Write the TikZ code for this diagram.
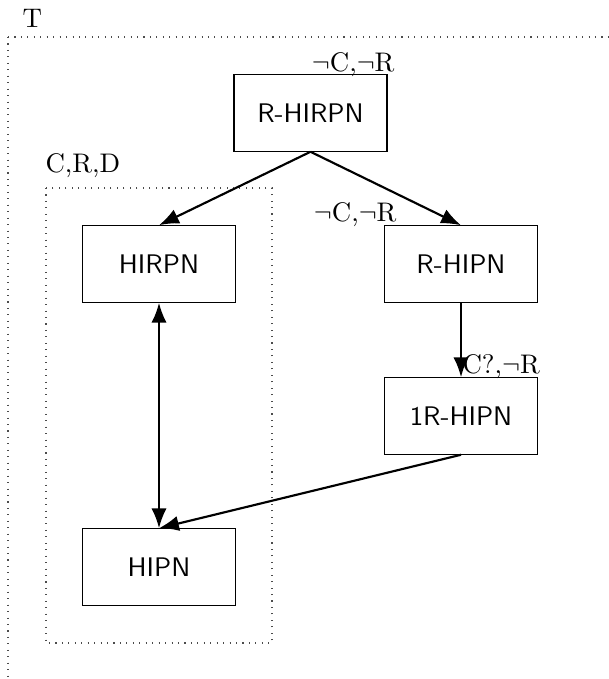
\documentclass[tikz,border=0pt]{standalone}
\usetikzlibrary{arrows.meta}
\begin{document}
\begin{tikzpicture}[x={(0.013072cm,0)}, y={(0,-0.013072cm)},
  netbox/.style={draw, rectangle, minimum width=2cm, minimum height=1cm, font=\sffamily},
  tag/.style={inner sep=0pt, font=\rmfamily},
  link/.style={thick, -{Latex[length=2.6mm,width=2mm]}},
  region/.style={draw=black!70, dotted}]
  \useasboundingbox (0,0) rectangle (609,679);

  % outer region T
  \draw[region] (8,37) -- (640,37);
  \draw[region] (8,37) -- (8,700);
  \node[tag, anchor=base west] (tlabel) at (22,28) {T};

  % inner region C,R,D
  \draw[region] (46,188) rectangle (272,643);
  \node[tag, anchor=base west] (crd) at (45,173) {C,R,D};

  % nets
  \node[netbox] (rhirpn) at (310.5,113) {R-HIRPN};
  \node[netbox] (hirpn) at (159,264) {HIRPN};
  \node[netbox] (rhipn) at (461,264) {R-HIPN};
  \node[netbox] (onerhipn) at (461,416) {1R-HIPN};
  \node[netbox] (hipn) at (159,567) {HIPN};

  % property labels
  \node[tag, anchor=base east] (l1) at (395,72) {$\neg$C,$\neg$R};
  \node[tag, anchor=base east] (l2) at (397,222) {$\neg$C,$\neg$R};
  \node[tag, anchor=base west] (l3) at (462,373) {C?,$\neg$R};

  % connectors
  \draw[link] (rhirpn.south) -- (hirpn.north);
  \draw[link] (rhirpn.south) -- (rhipn.north);
  \draw[link] (rhipn.south) -- (onerhipn.north);
  \draw[link] (onerhipn.south) -- (hipn.north);
  \draw[thick, {Latex[length=2.6mm,width=2mm]}-{Latex[length=2.6mm,width=2mm]}] (hirpn.south) -- (hipn.north);
\end{tikzpicture}
\end{document}
